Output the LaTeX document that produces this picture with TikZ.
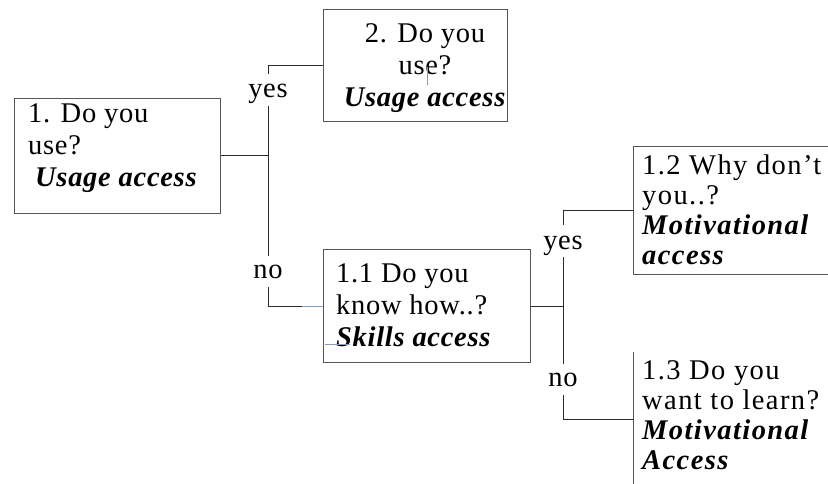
\documentclass[tikz,border=0pt]{standalone}
\usepackage{fontspec}
\setmainfont{Liberation Serif}[LetterSpace=2.5]
\definecolor{boxgray}{HTML}{555555}
\definecolor{linegray}{HTML}{2A2A2A}
\definecolor{artblue}{HTML}{7A9CC6}
\newcommand{\bi}[1]{\textbf{\textit{#1}}}
\begin{document}
\begin{tikzpicture}[x=1pt,y=-1pt,
  boxstyle/.style={draw=boxgray, line width=1pt, inner sep=0pt, anchor=north west},
  txt/.style={inner sep=0pt, font=\fontsize{28.5}{32}\selectfont, align=left, anchor=north west},
  widetxt/.style={txt, font=\fontsize{28.5}{30}\selectfont\addfontfeatures{LetterSpace=5}},
  lbl/.style={inner sep=0pt, font=\fontsize{28.5}{32}\selectfont, anchor=base},
  conn/.style={draw=linegray, line width=1pt},
  artifact/.style={draw=artblue, line width=1pt}]
\useasboundingbox (0,0) rectangle (828,484);
\fill[white] (0,0) rectangle (828,484);
\clip (0,0) rectangle (828,484);

% boxes
\node[boxstyle, minimum width=206pt, minimum height=115pt] (b1) at (14,98) {};
\node[boxstyle, minimum width=184pt, minimum height=112pt] (b2) at (323,9) {};
\node[boxstyle, minimum width=207pt, minimum height=113pt] (b11) at (323,249) {};
\node[boxstyle, minimum width=250pt, minimum height=128pt] (b12) at (633,146) {};
\node[inner sep=0pt, anchor=north west, minimum width=250pt, minimum height=200pt] (b13) at (633,352) {};
\draw[draw=boxgray, line width=1pt] (b13.north west) -- (b13.south west);

% texts
\node[txt] (t1) at (28,101) {\rule{0pt}{21pt}1. Do you\\use?\\\hspace*{7pt}\bi{Usage access}};
\node[txt, align=center, anchor=north] (t2) at (425,21) {\rule{0pt}{21pt}2. Do you\\use?\\\bi{Usage access}};
\node[txt] (t11) at (336,261) {\rule{0pt}{21pt}1.1 Do you\\know how..?\\\bi{Skills access}};
\node[widetxt] (t12) at (642,153) {\rule{0pt}{21pt}1.2 Why don’t\\you..?\\\bi{Motivational}\\\bi{access}};
\node[widetxt] (t13) at (642,358) {\rule{0pt}{21pt}1.3 Do you\\want to learn?\\\bi{Motivational}\\\bi{Access}};

% labels
\node[lbl] (yesA) at (268,98) {yes};
\node[lbl] (noA) at (268,278) {no};
\node[lbl] (yesB) at (563,249) {yes};
\node[lbl] (noB) at (563,386) {no};

% connectors, left tree
\draw[conn] (b1.east) -- (b1.east -| yesA.base);
\draw[conn] (b2.west) -| ([yshift=24pt]yesA.base);
\draw[conn] ([yshift=-8pt]yesA.base) -- ([yshift=22pt]noA.base);
\draw[conn] ([yshift=-9pt]noA.base) |- (b11.west);
\draw[artifact] ([xshift=-21pt]b11.west) -- (b11.west);

% connectors, right tree
\coordinate (b13in) at (633,419);
\draw[conn] (b11.east) -- (b11.east -| yesB.base);
\draw[conn] (b12.west) -| ([yshift=24pt]yesB.base);
\draw[conn] ([yshift=-8pt]yesB.base) -- ([yshift=22pt]noB.base);
\draw[conn] ([yshift=-9pt]noB.base) |- (b13in);

% small blue marks seen in the reference
\draw[artifact] (427,67) -- (427,85);
\draw[artifact] (325,344) -- (350,344);
\end{tikzpicture}
\end{document}
